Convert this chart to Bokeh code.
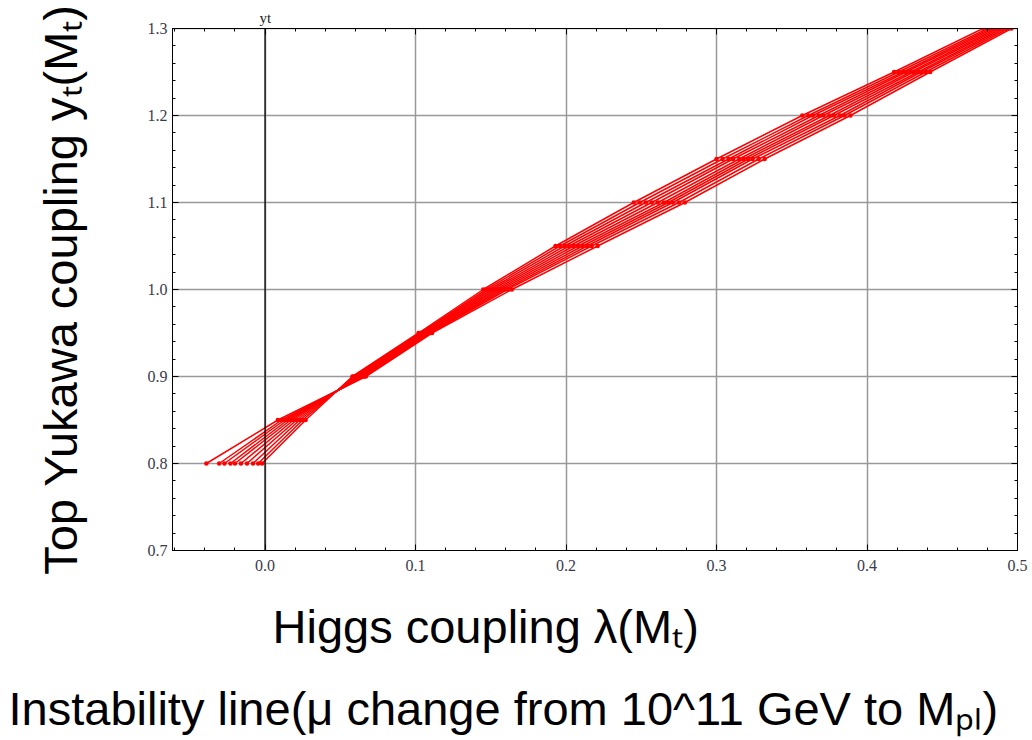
from bokeh.plotting import figure
from bokeh.models import (FixedTicker, LinearAxis, Span, Title,
                          PrintfTickFormatter, CustomJSTickFormatter)
from bokeh.embed import file_html
from bokeh.resources import INLINE

# ---------------- data ----------------
yt_levels = [0.80, 0.85, 0.90, 0.95, 1.00, 1.05, 1.10, 1.15, 1.20, 1.25, 1.30]

lam_mu11 = [-0.0020, 0.0270, 0.058, 0.102, 0.145, 0.193, 0.245, 0.300, 0.357, 0.418, 0.477]
lam_mu12 = [-0.0046, 0.0250, 0.059, 0.103, 0.147, 0.196, 0.249, 0.304, 0.361, 0.421, 0.480]
lam_mu13 = [-0.0080, 0.0230, 0.060, 0.104, 0.149, 0.199, 0.253, 0.308, 0.364, 0.424, 0.482]
lam_mu14 = [-0.0120, 0.0210, 0.061, 0.105, 0.151, 0.202, 0.257, 0.311, 0.368, 0.426, 0.484]
lam_mu15 = [-0.0160, 0.0190, 0.062, 0.106, 0.153, 0.205, 0.261, 0.315, 0.371, 0.429, 0.486]
lam_mu16 = [-0.0200, 0.0170, 0.063, 0.107, 0.155, 0.208, 0.265, 0.318, 0.375, 0.431, 0.488]
lam_mu17 = [-0.0230, 0.0150, 0.064, 0.108, 0.157, 0.211, 0.268, 0.321, 0.378, 0.434, 0.490]
lam_mu18 = [-0.0270, 0.0130, 0.065, 0.109, 0.159, 0.214, 0.271, 0.324, 0.382, 0.436, 0.492]
lam_mu19 = [-0.0305, 0.0110, 0.066, 0.110, 0.161, 0.217, 0.275, 0.328, 0.385, 0.439, 0.494]
lam_mupl = [-0.0390, 0.0085, 0.067, 0.111, 0.164, 0.221, 0.279, 0.332, 0.389, 0.442, 0.496]

curves = [lam_mu11, lam_mu12, lam_mu13, lam_mu14, lam_mu15,
          lam_mu16, lam_mu17, lam_mu18, lam_mu19, lam_mupl]

x_tick_labels = ["0.0", "0.1", "0.2", "0.3", "0.4", "0.5"]
y_tick_labels = ["0.7", "0.8", "0.9", "1.0", "1.1", "1.2", "1.3"]
x_major = [float(s) for s in x_tick_labels]
y_major = [float(s) for s in y_tick_labels]

x_caption = "Higgs coupling \u03bb(M\u209c)"
y_caption = "Top Yukawa coupling y\u209c(M\u209c)"
bottom_caption = "Instability line(\u03bc change from 10^11 GeV to M\u209a\u2097)"
axis_caption = "yt"

# ---------------- figure ----------------
XS, XE = -0.0615, 0.5
YS, YE = 0.7, 1.3

x_minor = [round(-0.06 + 0.02 * k, 2) for k in range(29)]
y_minor = [round(0.70 + 0.02 * k, 2) for k in range(31)]

p = figure(frame_width=845, frame_height=522, x_range=(XS, XE), y_range=(YS, YE + 1e-9),
           output_backend="svg", toolbar_location=None,
           min_border_left=172, min_border_right=15, min_border_top=28, min_border_bottom=190)
p.background_fill_color = "white"
p.border_fill_color = "white"
p.outline_line_color = "black"
p.outline_line_width = 1

tick_font = "Liberation Serif"
tick_color = "#3a3a4a"
SANS = "Liberation Sans"

for ax, ticks, minors in ((p.xaxis[0], x_major, x_minor), (p.yaxis[0], y_major, y_minor)):
    ax.ticker = FixedTicker(ticks=ticks, minor_ticks=minors)
    ax.formatter = PrintfTickFormatter(format="%.1f")
    ax.major_tick_in = 6
    ax.major_tick_out = 0
    ax.minor_tick_in = 3
    ax.minor_tick_out = 0
    ax.axis_line_color = "black"
    ax.major_tick_line_color = "black"
    ax.minor_tick_line_color = "black"
    ax.major_label_text_font = tick_font
    ax.major_label_text_font_size = "16px"
    ax.major_label_text_color = tick_color
p.xaxis[0].major_label_standoff = 9
p.yaxis[0].major_label_standoff = 5

# y caption as the left axis label (centred on the frame, like the reference)
p.yaxis[0].axis_label = y_caption
p.yaxis[0].axis_label_text_font = SANS
p.yaxis[0].axis_label_text_font_size = "47px"
p.yaxis[0].axis_label_text_font_style = "normal"
p.yaxis[0].axis_label_text_color = "black"
p.yaxis[0].axis_label_standoff = 58

blank = CustomJSTickFormatter(code="return ''")
top = LinearAxis(ticker=FixedTicker(ticks=x_major, minor_ticks=x_minor), formatter=blank,
                 major_tick_in=6, major_tick_out=0, minor_tick_in=3, minor_tick_out=0,
                 major_label_standoff=0)
right = LinearAxis(ticker=FixedTicker(ticks=y_major, minor_ticks=y_minor), formatter=blank,
                   major_tick_in=6, major_tick_out=0, minor_tick_in=3, minor_tick_out=0,
                   major_label_standoff=0)
p.add_layout(top, "above")
p.add_layout(right, "right")

# "yt" caption of the vertical axis (x = 0), above the frame
p.add_layout(Title(text=axis_caption, align="left", offset=87, standoff=6,
                   text_font=tick_font, text_font_size="15px", text_font_style="normal",
                   text_color="#222222"), "above")

# x caption and bottom caption as titles below the x axis
p.add_layout(Title(text=x_caption, align="left", offset=100, standoff=49,
                   text_font=SANS, text_font_size="47px", text_font_style="normal",
                   text_color="black"), "below")
p.add_layout(Title(text=bottom_caption, align="left", offset=-164, standoff=4,
                   text_font=SANS, text_font_size="47px", text_font_style="normal",
                   text_color="black"), "below")

p.xgrid.grid_line_color = "#999999"
p.ygrid.grid_line_color = "#999999"
p.xgrid.grid_line_width = 1.5
p.ygrid.grid_line_width = 1.5

p.add_layout(Span(location=0, dimension="height", line_color="black", line_width=1.3))

for lam in curves:
    p.line(lam, yt_levels, line_color="#ff0000", line_width=1.5)
    p.scatter(lam, yt_levels, size=4.5, fill_color="#ff0000", line_color=None)

open("out.html", "w").write(file_html(p, INLINE))
